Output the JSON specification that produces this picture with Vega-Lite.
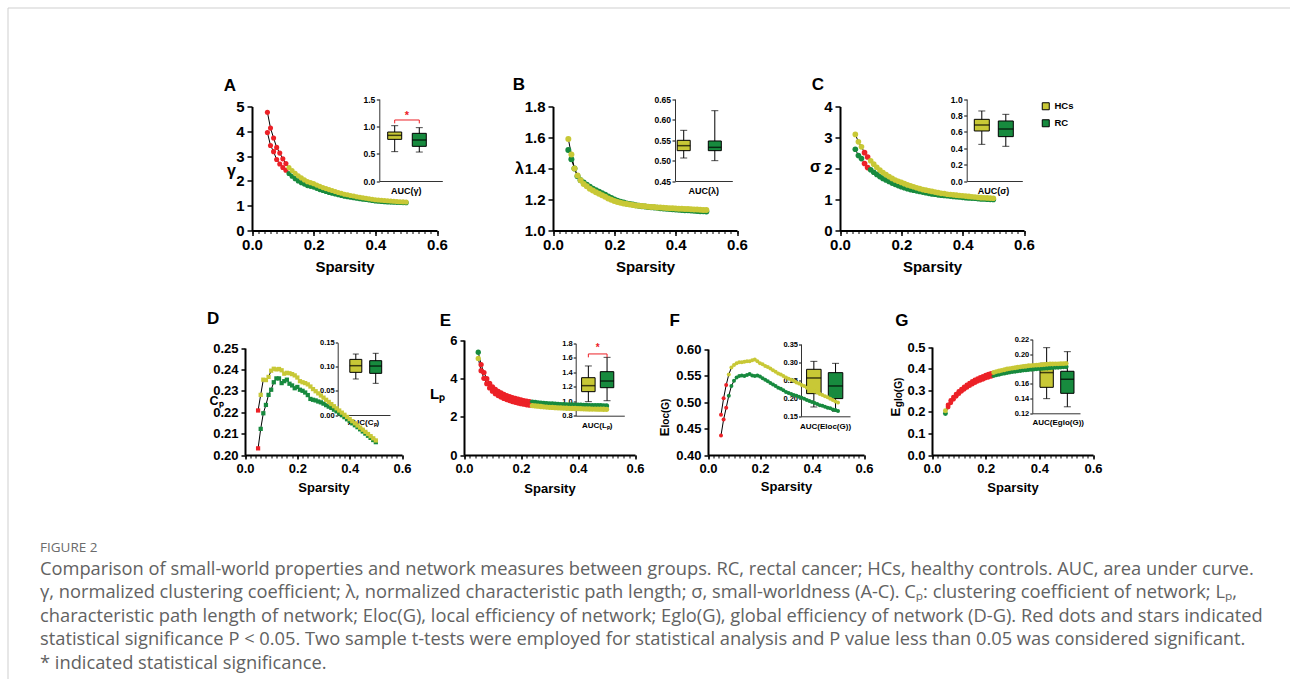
{
"$schema":"https://vega.github.io/schema/vega-lite/v6.json",
"width":1282.5,"height":671.5,
"autosize":{"type":"none"},
"padding":{"left":7.5,"top":7.5,"right":0,"bottom":0},
"background":"white",
"config":{
 "view":{"stroke":"#cfcfcf","strokeWidth":1},
 "axis":{"grid":false,"labelFont":"Liberation Sans","titleFont":"Liberation Sans","labelFontWeight":"bold","titleFontWeight":"bold","labelColor":"#000","titleColor":"#000","domainColor":"#000","tickColor":"#000","labelFlush":false,"labelOverlap":false}
},
"datasets":{
"fig":[{"t":"FIGURE 2"}],
"cap":[
{"n":1,"t":"Comparison of small-world properties and network measures between groups. RC, rectal cancer; HCs, healthy controls. AUC, area under curve."},
{"n":2,"t":"γ, normalized clustering coefficient; λ, normalized characteristic path length; σ, small-worldness (A-C). Cₚ: clustering coefficient of network; Lₚ,"},
{"n":3,"t":"characteristic path length of network; Eloc(G), local efficiency of network; Eglo(G), global efficiency of network (D-G). Red dots and stars indicated"},
{"n":4,"t":"statistical significance P < 0.05. Two sample t-tests were employed for statistical analysis and P value less than 0.05 was considered significant."},
{"n":5,"t":"* indicated statistical significance."}],
"bA":[{"g":"HCs","mn":0.537,"q1":0.762,"md":0.835,"q3":0.896,"mx":1.012},{"g":"RC","mn":0.53,"q1":0.634,"md":0.75,"q3":0.872,"mx":0.976}],
"kA":[{"g":"HCs","v":1.18,"o":0},{"g":"HCs","v":1.054,"o":1},{"g":"HCs","v":1.116,"o":2},{"g":"RC","v":1.116,"o":3},{"g":"RC","v":1.054,"o":4}],
"bB":[{"g":"HCs","mn":0.5061,"q1":0.524,"md":0.5362,"q3":0.5492,"mx":0.5736},{"g":"RC","mn":0.4996,"q1":0.524,"md":0.5321,"q3":0.5476,"mx":0.6215}],
"bC":[{"g":"HCs","mn":0.447,"q1":0.61,"md":0.683,"q3":0.752,"mx":0.854},{"g":"RC","mn":0.423,"q1":0.541,"md":0.634,"q3":0.732,"mx":0.813}],
"bD":[{"g":"HCs","mn":0.0747,"q1":0.0885,"md":0.1023,"q3":0.1154,"mx":0.1265},{"g":"RC","mn":0.0657,"q1":0.0864,"md":0.1016,"q3":0.1127,"mx":0.128}],
"bE":[{"g":"HCs","mn":0.994,"q1":1.132,"md":1.215,"q3":1.325,"mx":1.487},{"g":"RC","mn":1.007,"q1":1.187,"md":1.279,"q3":1.408,"mx":1.606}],
"kE":[{"g":"HCs","v":1.73,"o":0},{"g":"HCs","v":1.606,"o":1},{"g":"HCs","v":1.653,"o":2},{"g":"RC","v":1.653,"o":3},{"g":"RC","v":1.606,"o":4}],
"bF":[{"g":"HCs","mn":0.1758,"q1":0.2127,"md":0.256,"q3":0.28,"mx":0.302},{"g":"RC","mn":0.1638,"q1":0.1989,"md":0.2339,"q3":0.2707,"mx":0.2965}],
"bG":[{"g":"HCs","mn":0.1398,"q1":0.1551,"md":0.175,"q3":0.1876,"mx":0.2087},{"g":"RC","mn":0.1288,"q1":0.147,"md":0.166,"q3":0.1768,"mx":0.2033}],
"A":[
{"s":0.05,"HCs":4.77,"RC":3.95,"r":1},{"s":0.06,"HCs":4.13,"RC":3.43,"r":1},{"s":0.07,"HCs":3.73,"RC":3.18,"r":1},{"s":0.08,"HCs":3.35,"RC":2.86,"r":1},{"s":0.09,"HCs":3.12,"RC":2.68,"r":1},{"s":0.10,"HCs":2.89,"RC":2.54,"r":1},{"s":0.11,"HCs":2.70,"RC":2.43,"r":1},
{"s":0.12,"HCs":2.54,"RC":2.30},{"s":0.13,"HCs":2.42,"RC":2.19},{"s":0.14,"HCs":2.31,"RC":2.09},{"s":0.15,"HCs":2.21,"RC":2.00},{"s":0.16,"HCs":2.12,"RC":1.93},{"s":0.17,"HCs":2.04,"RC":1.87},{"s":0.18,"HCs":1.97,"RC":1.81},{"s":0.19,"HCs":1.93,"RC":1.78},{"s":0.20,"HCs":1.89,"RC":1.75},
{"s":0.21,"HCs":1.83,"RC":1.70},{"s":0.22,"HCs":1.78,"RC":1.65},{"s":0.23,"HCs":1.73,"RC":1.61},{"s":0.24,"HCs":1.69,"RC":1.57},{"s":0.25,"HCs":1.65,"RC":1.53},{"s":0.26,"HCs":1.61,"RC":1.50},{"s":0.27,"HCs":1.57,"RC":1.47},{"s":0.28,"HCs":1.53,"RC":1.44},{"s":0.29,"HCs":1.50,"RC":1.41},{"s":0.30,"HCs":1.46,"RC":1.38},
{"s":0.31,"HCs":1.44,"RC":1.36},{"s":0.32,"HCs":1.41,"RC":1.34},{"s":0.33,"HCs":1.39,"RC":1.32},{"s":0.34,"HCs":1.36,"RC":1.30},{"s":0.35,"HCs":1.34,"RC":1.28},{"s":0.36,"HCs":1.32,"RC":1.26},{"s":0.37,"HCs":1.30,"RC":1.25},{"s":0.38,"HCs":1.28,"RC":1.23},{"s":0.39,"HCs":1.26,"RC":1.21},{"s":0.40,"HCs":1.24,"RC":1.19},
{"s":0.41,"HCs":1.23,"RC":1.18},{"s":0.42,"HCs":1.22,"RC":1.17},{"s":0.43,"HCs":1.21,"RC":1.16},{"s":0.44,"HCs":1.20,"RC":1.15},{"s":0.45,"HCs":1.19,"RC":1.145},{"s":0.46,"HCs":1.18,"RC":1.14},{"s":0.47,"HCs":1.17,"RC":1.135},{"s":0.48,"HCs":1.16,"RC":1.13},{"s":0.49,"HCs":1.155,"RC":1.125},{"s":0.50,"HCs":1.15,"RC":1.12}],
"B":[
{"s":0.05,"HCs":1.59,"RC":1.52},{"s":0.06,"HCs":1.49,"RC":1.46},{"s":0.07,"HCs":1.40,"RC":1.40},{"s":0.08,"HCs":1.355,"RC":1.35},{"s":0.09,"HCs":1.325,"RC":1.325},{"s":0.10,"HCs":1.30,"RC":1.31},{"s":0.11,"HCs":1.285,"RC":1.295},{"s":0.12,"HCs":1.27,"RC":1.282},{"s":0.13,"HCs":1.258,"RC":1.27},{"s":0.14,"HCs":1.247,"RC":1.26},
{"s":0.15,"HCs":1.237,"RC":1.25},{"s":0.16,"HCs":1.227,"RC":1.24},{"s":0.17,"HCs":1.217,"RC":1.23},{"s":0.18,"HCs":1.207,"RC":1.22},{"s":0.19,"HCs":1.198,"RC":1.21},{"s":0.20,"HCs":1.19,"RC":1.20},{"s":0.21,"HCs":1.184,"RC":1.192},{"s":0.22,"HCs":1.179,"RC":1.186},{"s":0.23,"HCs":1.175,"RC":1.18},{"s":0.24,"HCs":1.171,"RC":1.175},
{"s":0.25,"HCs":1.168,"RC":1.171},{"s":0.26,"HCs":1.165,"RC":1.167},{"s":0.27,"HCs":1.162,"RC":1.163},{"s":0.28,"HCs":1.16,"RC":1.16},{"s":0.29,"HCs":1.158,"RC":1.157},{"s":0.30,"HCs":1.156,"RC":1.155},{"s":0.31,"HCs":1.154,"RC":1.152},{"s":0.32,"HCs":1.152,"RC":1.15},{"s":0.33,"HCs":1.151,"RC":1.148},{"s":0.34,"HCs":1.149,"RC":1.146},
{"s":0.35,"HCs":1.148,"RC":1.144},{"s":0.36,"HCs":1.146,"RC":1.142},{"s":0.37,"HCs":1.145,"RC":1.14},{"s":0.38,"HCs":1.144,"RC":1.139},{"s":0.39,"HCs":1.143,"RC":1.137},{"s":0.40,"HCs":1.142,"RC":1.136},{"s":0.41,"HCs":1.141,"RC":1.134},{"s":0.42,"HCs":1.14,"RC":1.133},{"s":0.43,"HCs":1.139,"RC":1.131},{"s":0.44,"HCs":1.138,"RC":1.13},
{"s":0.45,"HCs":1.137,"RC":1.129},{"s":0.46,"HCs":1.136,"RC":1.127},{"s":0.47,"HCs":1.135,"RC":1.126},{"s":0.48,"HCs":1.134,"RC":1.125},{"s":0.49,"HCs":1.133,"RC":1.124},{"s":0.50,"HCs":1.132,"RC":1.123}],
"C":[
{"s":0.05,"HCs":3.10,"RC":2.62},{"s":0.06,"HCs":2.86,"RC":2.42},{"s":0.07,"HCs":2.70,"RC":2.32},{"s":0.08,"HCs":2.51,"RC":2.16,"r":1},{"s":0.09,"HCs":2.37,"RC":2.03,"r":1},{"s":0.10,"HCs":2.25,"RC":1.96},{"s":0.11,"HCs":2.14,"RC":1.88},{"s":0.12,"HCs":2.04,"RC":1.81},{"s":0.13,"HCs":1.95,"RC":1.74},{"s":0.14,"HCs":1.87,"RC":1.68},
{"s":0.15,"HCs":1.80,"RC":1.63},{"s":0.16,"HCs":1.74,"RC":1.58},{"s":0.17,"HCs":1.68,"RC":1.53},{"s":0.18,"HCs":1.63,"RC":1.49},{"s":0.19,"HCs":1.59,"RC":1.45},{"s":0.20,"HCs":1.55,"RC":1.41},{"s":0.21,"HCs":1.51,"RC":1.38},{"s":0.22,"HCs":1.47,"RC":1.35},{"s":0.23,"HCs":1.44,"RC":1.32},{"s":0.24,"HCs":1.41,"RC":1.30},
{"s":0.25,"HCs":1.38,"RC":1.28},{"s":0.26,"HCs":1.35,"RC":1.26},{"s":0.27,"HCs":1.32,"RC":1.24},{"s":0.28,"HCs":1.30,"RC":1.22},{"s":0.29,"HCs":1.28,"RC":1.20},{"s":0.30,"HCs":1.26,"RC":1.18},{"s":0.31,"HCs":1.24,"RC":1.17},{"s":0.32,"HCs":1.22,"RC":1.15},{"s":0.33,"HCs":1.20,"RC":1.14},{"s":0.34,"HCs":1.19,"RC":1.13},
{"s":0.35,"HCs":1.17,"RC":1.12},{"s":0.36,"HCs":1.16,"RC":1.11},{"s":0.37,"HCs":1.15,"RC":1.10},{"s":0.38,"HCs":1.14,"RC":1.09},{"s":0.39,"HCs":1.13,"RC":1.08},{"s":0.40,"HCs":1.12,"RC":1.07},{"s":0.41,"HCs":1.11,"RC":1.06},{"s":0.42,"HCs":1.10,"RC":1.05},{"s":0.43,"HCs":1.09,"RC":1.045},{"s":0.44,"HCs":1.08,"RC":1.04},
{"s":0.45,"HCs":1.07,"RC":1.03},{"s":0.46,"HCs":1.06,"RC":1.02},{"s":0.47,"HCs":1.055,"RC":1.015},{"s":0.48,"HCs":1.05,"RC":1.01},{"s":0.49,"HCs":1.045,"RC":1.005},{"s":0.50,"HCs":1.04,"RC":1.00}],
"D":[
{"s":0.05,"HCs":0.2208,"RC":0.2031,"r":1},{"s":0.06,"HCs":0.2281,"RC":0.2122},{"s":0.07,"HCs":0.2352,"RC":0.2195},{"s":0.08,"HCs":0.2350,"RC":0.2234},{"s":0.09,"HCs":0.2365,"RC":0.2281},{"s":0.10,"HCs":0.2394,"RC":0.2305},{"s":0.11,"HCs":0.2403,"RC":0.2340},{"s":0.12,"HCs":0.2400,"RC":0.2358},{"s":0.13,"HCs":0.2402,"RC":0.2358},{"s":0.14,"HCs":0.2396,"RC":0.2336},
{"s":0.15,"HCs":0.2380,"RC":0.2345},{"s":0.16,"HCs":0.2384,"RC":0.2352},{"s":0.17,"HCs":0.2382,"RC":0.2333},{"s":0.18,"HCs":0.2378,"RC":0.2325},{"s":0.19,"HCs":0.2372,"RC":0.2312},{"s":0.20,"HCs":0.2362,"RC":0.2318},{"s":0.21,"HCs":0.2345,"RC":0.2305},{"s":0.22,"HCs":0.2340,"RC":0.2300},{"s":0.23,"HCs":0.2336,"RC":0.2292},{"s":0.24,"HCs":0.2330,"RC":0.2280},
{"s":0.25,"HCs":0.2320,"RC":0.2262},{"s":0.26,"HCs":0.2308,"RC":0.2258},{"s":0.27,"HCs":0.2298,"RC":0.2255},{"s":0.28,"HCs":0.2288,"RC":0.2250},{"s":0.29,"HCs":0.2278,"RC":0.2246},{"s":0.30,"HCs":0.2268,"RC":0.2240},{"s":0.31,"HCs":0.2258,"RC":0.2233},{"s":0.32,"HCs":0.2248,"RC":0.2226},{"s":0.33,"HCs":0.2238,"RC":0.2220},{"s":0.34,"HCs":0.2228,"RC":0.2212},
{"s":0.35,"HCs":0.2218,"RC":0.2204},{"s":0.36,"HCs":0.2208,"RC":0.2195},{"s":0.37,"HCs":0.2198,"RC":0.2186},{"s":0.38,"HCs":0.2188,"RC":0.2177},{"s":0.39,"HCs":0.2178,"RC":0.2167},{"s":0.40,"HCs":0.2168,"RC":0.2158},{"s":0.41,"HCs":0.2158,"RC":0.2148},{"s":0.42,"HCs":0.2148,"RC":0.2139},{"s":0.43,"HCs":0.2138,"RC":0.2130},{"s":0.44,"HCs":0.2128,"RC":0.2120},
{"s":0.45,"HCs":0.2118,"RC":0.2110},{"s":0.46,"HCs":0.2108,"RC":0.2100},{"s":0.47,"HCs":0.2098,"RC":0.2090},{"s":0.48,"HCs":0.2088,"RC":0.2080},{"s":0.49,"HCs":0.2078,"RC":0.2070},{"s":0.50,"HCs":0.2068,"RC":0.2060}],
"E":[
{"s":0.05,"HCs":5.04,"RC":5.36},{"s":0.06,"HCs":4.40,"RC":4.72,"r":1},{"s":0.07,"HCs":4.00,"RC":4.30,"r":1},{"s":0.08,"HCs":3.72,"RC":3.98,"r":1},{"s":0.09,"HCs":3.50,"RC":3.73,"r":1},{"s":0.10,"HCs":3.33,"RC":3.55,"r":1},{"s":0.11,"HCs":3.20,"RC":3.42,"r":1},{"s":0.12,"HCs":3.10,"RC":3.32,"r":1},{"s":0.13,"HCs":3.02,"RC":3.24,"r":1},{"s":0.14,"HCs":2.95,"RC":3.16,"r":1},
{"s":0.15,"HCs":2.89,"RC":3.10,"r":1},{"s":0.16,"HCs":2.84,"RC":3.04,"r":1},{"s":0.17,"HCs":2.79,"RC":2.99,"r":1},{"s":0.18,"HCs":2.75,"RC":2.95,"r":1},{"s":0.19,"HCs":2.71,"RC":2.91,"r":1},{"s":0.20,"HCs":2.68,"RC":2.87,"r":1},{"s":0.21,"HCs":2.65,"RC":2.84,"r":1},{"s":0.22,"HCs":2.62,"RC":2.81,"r":1},{"s":0.23,"HCs":2.60,"RC":2.78,"r":1},{"s":0.24,"HCs":2.58,"RC":2.76},
{"s":0.25,"HCs":2.56,"RC":2.74},{"s":0.26,"HCs":2.545,"RC":2.72},{"s":0.27,"HCs":2.53,"RC":2.70},{"s":0.28,"HCs":2.515,"RC":2.69},{"s":0.29,"HCs":2.50,"RC":2.68},{"s":0.30,"HCs":2.49,"RC":2.67},{"s":0.31,"HCs":2.48,"RC":2.66},{"s":0.32,"HCs":2.47,"RC":2.65},{"s":0.33,"HCs":2.46,"RC":2.64},{"s":0.34,"HCs":2.455,"RC":2.63},
{"s":0.35,"HCs":2.45,"RC":2.625},{"s":0.36,"HCs":2.44,"RC":2.62},{"s":0.37,"HCs":2.435,"RC":2.615},{"s":0.38,"HCs":2.43,"RC":2.61},{"s":0.39,"HCs":2.425,"RC":2.605},{"s":0.40,"HCs":2.42,"RC":2.60},{"s":0.41,"HCs":2.415,"RC":2.595},{"s":0.42,"HCs":2.41,"RC":2.59},{"s":0.43,"HCs":2.405,"RC":2.585},{"s":0.44,"HCs":2.40,"RC":2.58},
{"s":0.45,"HCs":2.398,"RC":2.578},{"s":0.46,"HCs":2.395,"RC":2.575},{"s":0.47,"HCs":2.392,"RC":2.573},{"s":0.48,"HCs":2.39,"RC":2.57},{"s":0.49,"HCs":2.387,"RC":2.568},{"s":0.50,"HCs":2.385,"RC":2.565}],
"F":[
{"s":0.05,"HCs":0.476,"RC":0.437,"r":1},{"s":0.06,"HCs":0.507,"RC":0.467,"r":1},{"s":0.07,"HCs":0.532,"RC":0.489,"r":1},{"s":0.08,"HCs":0.552,"RC":0.512},{"s":0.09,"HCs":0.565,"RC":0.530},{"s":0.10,"HCs":0.570,"RC":0.540},{"s":0.11,"HCs":0.573,"RC":0.546},{"s":0.12,"HCs":0.575,"RC":0.549},{"s":0.13,"HCs":0.575,"RC":0.550},{"s":0.14,"HCs":0.576,"RC":0.549},
{"s":0.15,"HCs":0.577,"RC":0.551},{"s":0.16,"HCs":0.577,"RC":0.553},{"s":0.17,"HCs":0.579,"RC":0.550},{"s":0.18,"HCs":0.580,"RC":0.549},{"s":0.19,"HCs":0.577,"RC":0.550},{"s":0.20,"HCs":0.573,"RC":0.548},{"s":0.21,"HCs":0.571,"RC":0.545},{"s":0.22,"HCs":0.568,"RC":0.542},{"s":0.23,"HCs":0.566,"RC":0.539},{"s":0.24,"HCs":0.563,"RC":0.536},
{"s":0.25,"HCs":0.560,"RC":0.533},{"s":0.26,"HCs":0.557,"RC":0.530},{"s":0.27,"HCs":0.554,"RC":0.527},{"s":0.28,"HCs":0.552,"RC":0.525},{"s":0.29,"HCs":0.549,"RC":0.522},{"s":0.30,"HCs":0.546,"RC":0.519},{"s":0.31,"HCs":0.544,"RC":0.517},{"s":0.32,"HCs":0.542,"RC":0.515},{"s":0.33,"HCs":0.540,"RC":0.513},{"s":0.34,"HCs":0.537,"RC":0.512},
{"s":0.35,"HCs":0.535,"RC":0.510},{"s":0.36,"HCs":0.532,"RC":0.508},{"s":0.37,"HCs":0.530,"RC":0.506},{"s":0.38,"HCs":0.527,"RC":0.504},{"s":0.39,"HCs":0.525,"RC":0.502},{"s":0.40,"HCs":0.522,"RC":0.500},{"s":0.41,"HCs":0.520,"RC":0.498},{"s":0.42,"HCs":0.518,"RC":0.496},{"s":0.43,"HCs":0.515,"RC":0.494},{"s":0.44,"HCs":0.513,"RC":0.493},
{"s":0.45,"HCs":0.511,"RC":0.491},{"s":0.46,"HCs":0.509,"RC":0.489},{"s":0.47,"HCs":0.506,"RC":0.488},{"s":0.48,"HCs":0.504,"RC":0.486},{"s":0.49,"HCs":0.501,"RC":0.485},{"s":0.50,"HCs":0.499,"RC":0.483}],
"G":[
{"s":0.05,"HCs":0.205,"RC":0.192},{"s":0.06,"HCs":0.232,"RC":0.222,"r":1},{"s":0.07,"HCs":0.252,"RC":0.242,"r":1},{"s":0.08,"HCs":0.268,"RC":0.258,"r":1},{"s":0.09,"HCs":0.282,"RC":0.272,"r":1},{"s":0.10,"HCs":0.294,"RC":0.284,"r":1},{"s":0.11,"HCs":0.305,"RC":0.295,"r":1},{"s":0.12,"HCs":0.315,"RC":0.304,"r":1},{"s":0.13,"HCs":0.324,"RC":0.313,"r":1},{"s":0.14,"HCs":0.332,"RC":0.321,"r":1},
{"s":0.15,"HCs":0.340,"RC":0.328,"r":1},{"s":0.16,"HCs":0.347,"RC":0.335,"r":1},{"s":0.17,"HCs":0.353,"RC":0.341,"r":1},{"s":0.18,"HCs":0.359,"RC":0.346,"r":1},{"s":0.19,"HCs":0.364,"RC":0.351,"r":1},{"s":0.20,"HCs":0.369,"RC":0.356,"r":1},{"s":0.21,"HCs":0.374,"RC":0.360,"r":1},{"s":0.22,"HCs":0.378,"RC":0.364,"r":1},{"s":0.23,"HCs":0.382,"RC":0.368},{"s":0.24,"HCs":0.386,"RC":0.371},
{"s":0.25,"HCs":0.389,"RC":0.374},{"s":0.26,"HCs":0.392,"RC":0.377},{"s":0.27,"HCs":0.395,"RC":0.379},{"s":0.28,"HCs":0.398,"RC":0.382},{"s":0.29,"HCs":0.400,"RC":0.384},{"s":0.30,"HCs":0.402,"RC":0.386},{"s":0.31,"HCs":0.404,"RC":0.388},{"s":0.32,"HCs":0.406,"RC":0.390},{"s":0.33,"HCs":0.408,"RC":0.391},{"s":0.34,"HCs":0.410,"RC":0.393},
{"s":0.35,"HCs":0.411,"RC":0.394},{"s":0.36,"HCs":0.413,"RC":0.396},{"s":0.37,"HCs":0.414,"RC":0.397},{"s":0.38,"HCs":0.415,"RC":0.398},{"s":0.39,"HCs":0.416,"RC":0.399},{"s":0.40,"HCs":0.417,"RC":0.400},{"s":0.41,"HCs":0.418,"RC":0.401},{"s":0.42,"HCs":0.419,"RC":0.402},{"s":0.43,"HCs":0.420,"RC":0.403},{"s":0.44,"HCs":0.421,"RC":0.404},
{"s":0.45,"HCs":0.421,"RC":0.405},{"s":0.46,"HCs":0.422,"RC":0.406},{"s":0.47,"HCs":0.422,"RC":0.406},{"s":0.48,"HCs":0.423,"RC":0.407},{"s":0.49,"HCs":0.423,"RC":0.408},{"s":0.50,"HCs":0.424,"RC":0.408}]
},
"resolve":{"scale":{"x":"independent","y":"independent"},"axis":{"x":"independent","y":"independent"}},
"layer":[
{"data":{"name":"fig"},"mark":{"type":"text","align":"left","baseline":"middle","font":"Open Sans","fontSize":13.5,"color":"#6b6b6b"},
 "encoding":{"x":{"datum":0,"type":"quantitative","scale":{"domain":[0,1],"range":[32.5,1282.5]},"axis":null},"y":{"datum":0,"type":"quantitative","scale":{"domain":[0,1],"range":[540.5,640]},"axis":null},"text":{"field":"t"}}},
{"data":{"name":"cap"},"mark":{"type":"text","align":"left","baseline":"middle","font":"Open Sans","fontSize":18.3,"color":"#626262"},
 "encoding":{"x":{"datum":0,"type":"quantitative","scale":{"domain":[0,1],"range":[32.5,1282.5]},"axis":null},"y":{"field":"n","type":"quantitative","scale":{"domain":[1,5],"range":[562,656],"nice":false,"zero":false},"axis":null},"text":{"field":"t"}}},

{"data":{"name":"bA"},"mark":{"type":"rule","color":"#000","strokeWidth":1},"encoding":{"x":{"field":"g","type":"nominal","scale":{"type":"band","domain":["HCs","RC"],"range":[371.8,434.8],"paddingInner":0.431,"paddingOuter":0.496,"align":0.344,"round":false},"axis":null},"y":{"field":"mn","type":"quantitative","scale":{"domain":[0,1.5],"range":[173.5,91.5],"nice":false,"zero":false},"axis":null},"y2":{"field":"mx"}}},
{"data":{"name":"bA"},"transform":[{"fold":["mn","mx"]}],"mark":{"type":"tick","orient":"horizontal","color":"#000","size":7,"thickness":1},"encoding":{"x":{"field":"g","type":"nominal","scale":{"type":"band","domain":["HCs","RC"],"range":[371.8,434.8],"paddingInner":0.431,"paddingOuter":0.496,"align":0.344,"round":false},"axis":null},"y":{"field":"value","type":"quantitative","scale":{"domain":[0,1.5],"range":[173.5,91.5],"nice":false,"zero":false},"axis":null}}},
{"data":{"name":"bA"},"mark":{"type":"bar","stroke":"#000","strokeWidth":1},"encoding":{"x":{"field":"g","type":"nominal","scale":{"type":"band","domain":["HCs","RC"],"range":[371.8,434.8],"paddingInner":0.431,"paddingOuter":0.496,"align":0.344,"round":false},"axis":{"orient":"bottom","offset":-498,"labels":false,"ticks":false,"domainWidth":1,"domainColor":"#333","title":"AUC(γ)","titleFontSize":9,"titleX":398.2,"titleY":9,"titleAlign":"center","titleBaseline":"middle","titleAngle":0}},"y":{"field":"q1","type":"quantitative","scale":{"domain":[0,1.5],"range":[173.5,91.5],"nice":false,"zero":false},"axis":{"orient":"left","offset":-371.8,"values":[0,0.5,1,1.5],"format":".1f","tickSize":3,"tickWidth":1,"domainWidth":1,"domainColor":"#333","labelFontSize":8.5,"labelPadding":1.5,"title":null}},"y2":{"field":"q3"},"color":{"field":"g","type":"nominal","scale":{"domain":["HCs","RC"],"range":["#c8c836","#178a3e"]},"legend":{"title":null,"orient":"none","legendX":1033.5,"legendY":94,"symbolType":"square","symbolSize":49,"symbolStrokeColor":"#000","symbolStrokeWidth":1,"labelFont":"Liberation Sans","labelFontWeight":"bold","labelFontSize":9.5,"labelColor":"#000","labelOffset":4,"rowPadding":5,"padding":0}}}},
{"data":{"name":"bA"},"mark":{"type":"tick","orient":"horizontal","color":"#000","size":14,"thickness":1.5},"encoding":{"x":{"field":"g","type":"nominal","scale":{"type":"band","domain":["HCs","RC"],"range":[371.8,434.8],"paddingInner":0.431,"paddingOuter":0.496,"align":0.344,"round":false},"axis":null},"y":{"field":"md","type":"quantitative","scale":{"domain":[0,1.5],"range":[173.5,91.5],"nice":false,"zero":false},"axis":null}}},
{"data":{"name":"kA"},"transform":[{"filter":"datum.o > 0"}],"mark":{"type":"line","color":"#ec2127","strokeWidth":1},"encoding":{"x":{"field":"g","type":"nominal","scale":{"type":"band","domain":["HCs","RC"],"range":[371.8,434.8],"paddingInner":0.431,"paddingOuter":0.496,"align":0.344,"round":false},"axis":null},"y":{"field":"v","type":"quantitative","scale":{"domain":[0,1.5],"range":[173.5,91.5],"nice":false,"zero":false},"axis":null},"order":{"field":"o","type":"quantitative"}}},
{"data":{"name":"kA"},"transform":[{"filter":"datum.o == 0"}],"mark":{"type":"text","text":"*","color":"#ec2127","fontSize":11,"fontWeight":"bold","dx":12.3,"align":"center","baseline":"middle"},"encoding":{"x":{"field":"g","type":"nominal","scale":{"type":"band","domain":["HCs","RC"],"range":[371.8,434.8],"paddingInner":0.431,"paddingOuter":0.496,"align":0.344,"round":false},"axis":null},"y":{"field":"v","type":"quantitative","scale":{"domain":[0,1.5],"range":[173.5,91.5],"nice":false,"zero":false},"axis":null}}},

{"data":{"name":"bB"},"mark":{"type":"rule","color":"#000","strokeWidth":1},"encoding":{"x":{"field":"g","type":"nominal","scale":{"type":"band","domain":["HCs","RC"],"range":[667.5,724.8],"paddingInner":0.582,"paddingOuter":0.212,"align":0.167,"round":false},"axis":null},"y":{"field":"mn","type":"quantitative","scale":{"domain":[0.45,0.65],"range":[173.5,91.5],"nice":false,"zero":false},"axis":null},"y2":{"field":"mx"}}},
{"data":{"name":"bB"},"transform":[{"fold":["mn","mx"]}],"mark":{"type":"tick","orient":"horizontal","color":"#000","size":7,"thickness":1},"encoding":{"x":{"field":"g","type":"nominal","scale":{"type":"band","domain":["HCs","RC"],"range":[667.5,724.8],"paddingInner":0.582,"paddingOuter":0.212,"align":0.167,"round":false},"axis":null},"y":{"field":"value","type":"quantitative","scale":{"domain":[0.45,0.65],"range":[173.5,91.5],"nice":false,"zero":false},"axis":null}}},
{"data":{"name":"bB"},"mark":{"type":"bar","stroke":"#000","strokeWidth":1},"encoding":{"x":{"field":"g","type":"nominal","scale":{"type":"band","domain":["HCs","RC"],"range":[667.5,724.8],"paddingInner":0.582,"paddingOuter":0.212,"align":0.167,"round":false},"axis":{"orient":"bottom","offset":-498,"labels":false,"ticks":false,"domainWidth":1,"domainColor":"#333","title":"AUC(λ)","titleFontSize":9,"titleX":695.8,"titleY":9,"titleAlign":"center","titleBaseline":"middle","titleAngle":0}},"y":{"field":"q1","type":"quantitative","scale":{"domain":[0.45,0.65],"range":[173.5,91.5],"nice":false,"zero":false},"axis":{"orient":"left","offset":-667.5,"values":[0.45,0.5,0.55,0.6,0.65],"format":".2f","tickSize":3,"tickWidth":1,"domainWidth":1,"domainColor":"#333","labelFontSize":8.5,"labelPadding":1.5,"title":null}},"y2":{"field":"q3"},"color":{"field":"g","type":"nominal","scale":{"domain":["HCs","RC"],"range":["#c8c836","#178a3e"]},"legend":{"title":null,"orient":"none","legendX":1033.5,"legendY":94,"symbolType":"square","symbolSize":49,"symbolStrokeColor":"#000","symbolStrokeWidth":1,"labelFont":"Liberation Sans","labelFontWeight":"bold","labelFontSize":9.5,"labelColor":"#000","labelOffset":4,"rowPadding":5,"padding":0}}}},
{"data":{"name":"bB"},"mark":{"type":"tick","orient":"horizontal","color":"#000","size":13,"thickness":1.5},"encoding":{"x":{"field":"g","type":"nominal","scale":{"type":"band","domain":["HCs","RC"],"range":[667.5,724.8],"paddingInner":0.582,"paddingOuter":0.212,"align":0.167,"round":false},"axis":null},"y":{"field":"md","type":"quantitative","scale":{"domain":[0.45,0.65],"range":[173.5,91.5],"nice":false,"zero":false},"axis":null}}},

{"data":{"name":"bC"},"mark":{"type":"rule","color":"#000","strokeWidth":1},"encoding":{"x":{"field":"g","type":"nominal","scale":{"type":"band","domain":["HCs","RC"],"range":[959.2,1014.8],"paddingInner":0.375,"paddingOuter":0.346,"align":0.458,"round":false},"axis":null},"y":{"field":"mn","type":"quantitative","scale":{"domain":[0,1],"range":[173.5,91.5],"nice":false,"zero":false},"axis":null},"y2":{"field":"mx"}}},
{"data":{"name":"bC"},"transform":[{"fold":["mn","mx"]}],"mark":{"type":"tick","orient":"horizontal","color":"#000","size":7,"thickness":1},"encoding":{"x":{"field":"g","type":"nominal","scale":{"type":"band","domain":["HCs","RC"],"range":[959.2,1014.8],"paddingInner":0.375,"paddingOuter":0.346,"align":0.458,"round":false},"axis":null},"y":{"field":"value","type":"quantitative","scale":{"domain":[0,1],"range":[173.5,91.5],"nice":false,"zero":false},"axis":null}}},
{"data":{"name":"bC"},"mark":{"type":"bar","stroke":"#000","strokeWidth":1},"encoding":{"x":{"field":"g","type":"nominal","scale":{"type":"band","domain":["HCs","RC"],"range":[959.2,1014.8],"paddingInner":0.375,"paddingOuter":0.346,"align":0.458,"round":false},"axis":{"orient":"bottom","offset":-498,"labels":false,"ticks":false,"domainWidth":1,"domainColor":"#333","title":"AUC(σ)","titleFontSize":9,"titleX":985.5,"titleY":9,"titleAlign":"center","titleBaseline":"middle","titleAngle":0}},"y":{"field":"q1","type":"quantitative","scale":{"domain":[0,1],"range":[173.5,91.5],"nice":false,"zero":false},"axis":{"orient":"left","offset":-959.2,"values":[0,0.2,0.4,0.6,0.8,1],"format":".1f","tickSize":3,"tickWidth":1,"domainWidth":1,"domainColor":"#333","labelFontSize":8.5,"labelPadding":1.5,"title":null}},"y2":{"field":"q3"},"color":{"field":"g","type":"nominal","scale":{"domain":["HCs","RC"],"range":["#c8c836","#178a3e"]},"legend":{"title":null,"orient":"none","legendX":1033.5,"legendY":94,"symbolType":"square","symbolSize":49,"symbolStrokeColor":"#000","symbolStrokeWidth":1,"labelFont":"Liberation Sans","labelFontWeight":"bold","labelFontSize":9.5,"labelColor":"#000","labelOffset":4,"rowPadding":5,"padding":0}}}},
{"data":{"name":"bC"},"mark":{"type":"tick","orient":"horizontal","color":"#000","size":15,"thickness":1.5},"encoding":{"x":{"field":"g","type":"nominal","scale":{"type":"band","domain":["HCs","RC"],"range":[959.2,1014.8],"paddingInner":0.375,"paddingOuter":0.346,"align":0.458,"round":false},"axis":null},"y":{"field":"md","type":"quantitative","scale":{"domain":[0,1],"range":[173.5,91.5],"nice":false,"zero":false},"axis":null}}},

{"data":{"name":"bD"},"mark":{"type":"rule","color":"#000","strokeWidth":1},"encoding":{"x":{"field":"g","type":"nominal","scale":{"type":"band","domain":["HCs","RC"],"range":[330.2,382.5],"paddingInner":0.397,"paddingOuter":0.513,"align":0.593,"round":false},"axis":null},"y":{"field":"mn","type":"quantitative","scale":{"domain":[0,0.15],"range":[407.5,335.2],"nice":false,"zero":false},"axis":null},"y2":{"field":"mx"}}},
{"data":{"name":"bD"},"transform":[{"fold":["mn","mx"]}],"mark":{"type":"tick","orient":"horizontal","color":"#000","size":6,"thickness":1},"encoding":{"x":{"field":"g","type":"nominal","scale":{"type":"band","domain":["HCs","RC"],"range":[330.2,382.5],"paddingInner":0.397,"paddingOuter":0.513,"align":0.593,"round":false},"axis":null},"y":{"field":"value","type":"quantitative","scale":{"domain":[0,0.15],"range":[407.5,335.2],"nice":false,"zero":false},"axis":null}}},
{"data":{"name":"bD"},"mark":{"type":"bar","stroke":"#000","strokeWidth":1},"encoding":{"x":{"field":"g","type":"nominal","scale":{"type":"band","domain":["HCs","RC"],"range":[330.2,382.5],"paddingInner":0.397,"paddingOuter":0.513,"align":0.593,"round":false},"axis":{"orient":"bottom","offset":-264,"labels":false,"ticks":false,"domainWidth":1,"domainColor":"#333","title":"AUC(Cₚ)","titleFontSize":8,"titleX":355.5,"titleY":7.7,"titleAlign":"center","titleBaseline":"middle","titleAngle":0}},"y":{"field":"q1","type":"quantitative","scale":{"domain":[0,0.15],"range":[407.5,335.2],"nice":false,"zero":false},"axis":{"orient":"left","offset":-330.2,"values":[0,0.05,0.1,0.15],"format":".2f","tickSize":2.5,"tickWidth":1,"domainWidth":1,"domainColor":"#333","labelFontSize":7.5,"labelPadding":1,"title":null}},"y2":{"field":"q3"},"color":{"field":"g","type":"nominal","scale":{"domain":["HCs","RC"],"range":["#c8c836","#178a3e"]},"legend":{"title":null,"orient":"none","legendX":1033.5,"legendY":94,"symbolType":"square","symbolSize":49,"symbolStrokeColor":"#000","symbolStrokeWidth":1,"labelFont":"Liberation Sans","labelFontWeight":"bold","labelFontSize":9.5,"labelColor":"#000","labelOffset":4,"rowPadding":5,"padding":0}}}},
{"data":{"name":"bD"},"mark":{"type":"tick","orient":"horizontal","color":"#000","size":12,"thickness":1.5},"encoding":{"x":{"field":"g","type":"nominal","scale":{"type":"band","domain":["HCs","RC"],"range":[330.2,382.5],"paddingInner":0.397,"paddingOuter":0.513,"align":0.593,"round":false},"axis":null},"y":{"field":"md","type":"quantitative","scale":{"domain":[0,0.15],"range":[407.5,335.2],"nice":false,"zero":false},"axis":null}}},

{"data":{"name":"bE"},"mark":{"type":"rule","color":"#000","strokeWidth":1},"encoding":{"x":{"field":"g","type":"nominal","scale":{"type":"band","domain":["HCs","RC"],"range":[568.2,616.8],"paddingInner":0.278,"paddingOuter":0.439,"align":0.36,"round":false},"axis":null},"y":{"field":"mn","type":"quantitative","scale":{"domain":[0.8,1.8],"range":[408.2,335.8],"nice":false,"zero":false},"axis":null},"y2":{"field":"mx"}}},
{"data":{"name":"bE"},"transform":[{"fold":["mn","mx"]}],"mark":{"type":"tick","orient":"horizontal","color":"#000","size":7,"thickness":1},"encoding":{"x":{"field":"g","type":"nominal","scale":{"type":"band","domain":["HCs","RC"],"range":[568.2,616.8],"paddingInner":0.278,"paddingOuter":0.439,"align":0.36,"round":false},"axis":null},"y":{"field":"value","type":"quantitative","scale":{"domain":[0.8,1.8],"range":[408.2,335.8],"nice":false,"zero":false},"axis":null}}},
{"data":{"name":"bE"},"mark":{"type":"bar","stroke":"#000","strokeWidth":1},"encoding":{"x":{"field":"g","type":"nominal","scale":{"type":"band","domain":["HCs","RC"],"range":[568.2,616.8],"paddingInner":0.278,"paddingOuter":0.439,"align":0.36,"round":false},"axis":{"orient":"bottom","offset":-263.3,"labels":false,"ticks":false,"domainWidth":1,"domainColor":"#333","title":"AUC(Lₚ)","titleFontSize":8,"titleX":589.2,"titleY":10,"titleAlign":"center","titleBaseline":"middle","titleAngle":0}},"y":{"field":"q1","type":"quantitative","scale":{"domain":[0.8,1.8],"range":[408.2,335.8],"nice":false,"zero":false},"axis":{"orient":"left","offset":-568.2,"values":[0.8,1,1.2,1.4,1.6,1.8],"format":".1f","tickSize":2.5,"tickWidth":1,"domainWidth":1,"domainColor":"#333","labelFontSize":7.5,"labelPadding":1,"title":null}},"y2":{"field":"q3"},"color":{"field":"g","type":"nominal","scale":{"domain":["HCs","RC"],"range":["#c8c836","#178a3e"]},"legend":{"title":null,"orient":"none","legendX":1033.5,"legendY":94,"symbolType":"square","symbolSize":49,"symbolStrokeColor":"#000","symbolStrokeWidth":1,"labelFont":"Liberation Sans","labelFontWeight":"bold","labelFontSize":9.5,"labelColor":"#000","labelOffset":4,"rowPadding":5,"padding":0}}}},
{"data":{"name":"bE"},"mark":{"type":"tick","orient":"horizontal","color":"#000","size":13.5,"thickness":1.5},"encoding":{"x":{"field":"g","type":"nominal","scale":{"type":"band","domain":["HCs","RC"],"range":[568.2,616.8],"paddingInner":0.278,"paddingOuter":0.439,"align":0.36,"round":false},"axis":null},"y":{"field":"md","type":"quantitative","scale":{"domain":[0.8,1.8],"range":[408.2,335.8],"nice":false,"zero":false},"axis":null}}},
{"data":{"name":"kE"},"transform":[{"filter":"datum.o > 0"}],"mark":{"type":"line","color":"#ec2127","strokeWidth":1},"encoding":{"x":{"field":"g","type":"nominal","scale":{"type":"band","domain":["HCs","RC"],"range":[568.2,616.8],"paddingInner":0.278,"paddingOuter":0.439,"align":0.36,"round":false},"axis":null},"y":{"field":"v","type":"quantitative","scale":{"domain":[0.8,1.8],"range":[408.2,335.8],"nice":false,"zero":false},"axis":null},"order":{"field":"o","type":"quantitative"}}},
{"data":{"name":"kE"},"transform":[{"filter":"datum.o == 0"}],"mark":{"type":"text","text":"*","color":"#ec2127","fontSize":10,"fontWeight":"bold","dx":9.35,"align":"center","baseline":"middle"},"encoding":{"x":{"field":"g","type":"nominal","scale":{"type":"band","domain":["HCs","RC"],"range":[568.2,616.8],"paddingInner":0.278,"paddingOuter":0.439,"align":0.36,"round":false},"axis":null},"y":{"field":"v","type":"quantitative","scale":{"domain":[0.8,1.8],"range":[408.2,335.8],"nice":false,"zero":false},"axis":null}}},

{"data":{"name":"bF"},"mark":{"type":"rule","color":"#000","strokeWidth":1},"encoding":{"x":{"field":"g","type":"nominal","scale":{"type":"band","domain":["HCs","RC"],"range":[793.5,842.5],"paddingInner":0.332,"paddingOuter":0.295,"align":0.4375,"round":false},"axis":null},"y":{"field":"mn","type":"quantitative","scale":{"domain":[0.15,0.35],"range":[408.8,336.5],"nice":false,"zero":false},"axis":null},"y2":{"field":"mx"}}},
{"data":{"name":"bF"},"transform":[{"fold":["mn","mx"]}],"mark":{"type":"tick","orient":"horizontal","color":"#000","size":7,"thickness":1},"encoding":{"x":{"field":"g","type":"nominal","scale":{"type":"band","domain":["HCs","RC"],"range":[793.5,842.5],"paddingInner":0.332,"paddingOuter":0.295,"align":0.4375,"round":false},"axis":null},"y":{"field":"value","type":"quantitative","scale":{"domain":[0.15,0.35],"range":[408.8,336.5],"nice":false,"zero":false},"axis":null}}},
{"data":{"name":"bF"},"mark":{"type":"bar","stroke":"#000","strokeWidth":1},"encoding":{"x":{"field":"g","type":"nominal","scale":{"type":"band","domain":["HCs","RC"],"range":[793.5,842.5],"paddingInner":0.332,"paddingOuter":0.295,"align":0.4375,"round":false},"axis":{"orient":"bottom","offset":-262.7,"labels":false,"ticks":false,"domainWidth":1,"domainColor":"#333","title":"AUC(Eloc(G))","titleFontSize":8,"titleX":817.5,"titleY":10.4,"titleAlign":"center","titleBaseline":"middle","titleAngle":0}},"y":{"field":"q1","type":"quantitative","scale":{"domain":[0.15,0.35],"range":[408.8,336.5],"nice":false,"zero":false},"axis":{"orient":"left","offset":-793.5,"values":[0.15,0.2,0.25,0.3,0.35],"format":".2f","tickSize":2.5,"tickWidth":1,"domainWidth":1,"domainColor":"#333","labelFontSize":7.5,"labelPadding":1,"title":null}},"y2":{"field":"q3"},"color":{"field":"g","type":"nominal","scale":{"domain":["HCs","RC"],"range":["#c8c836","#178a3e"]},"legend":{"title":null,"orient":"none","legendX":1033.5,"legendY":94,"symbolType":"square","symbolSize":49,"symbolStrokeColor":"#000","symbolStrokeWidth":1,"labelFont":"Liberation Sans","labelFontWeight":"bold","labelFontSize":9.5,"labelColor":"#000","labelOffset":4,"rowPadding":5,"padding":0}}}},
{"data":{"name":"bF"},"mark":{"type":"tick","orient":"horizontal","color":"#000","size":14.5,"thickness":1.5},"encoding":{"x":{"field":"g","type":"nominal","scale":{"type":"band","domain":["HCs","RC"],"range":[793.5,842.5],"paddingInner":0.332,"paddingOuter":0.295,"align":0.4375,"round":false},"axis":null},"y":{"field":"md","type":"quantitative","scale":{"domain":[0.15,0.35],"range":[408.8,336.5],"nice":false,"zero":false},"axis":null}}},

{"data":{"name":"bG"},"mark":{"type":"rule","color":"#000","strokeWidth":1},"encoding":{"x":{"field":"g","type":"nominal","scale":{"type":"band","domain":["HCs","RC"],"range":[1024.8,1072.5],"paddingInner":0.357,"paddingOuter":0.331,"align":0.562,"round":false},"axis":null},"y":{"field":"mn","type":"quantitative","scale":{"domain":[0.12,0.22],"range":[405.8,331.8],"nice":false,"zero":false},"axis":null},"y2":{"field":"mx"}}},
{"data":{"name":"bG"},"transform":[{"fold":["mn","mx"]}],"mark":{"type":"tick","orient":"horizontal","color":"#000","size":7,"thickness":1},"encoding":{"x":{"field":"g","type":"nominal","scale":{"type":"band","domain":["HCs","RC"],"range":[1024.8,1072.5],"paddingInner":0.357,"paddingOuter":0.331,"align":0.562,"round":false},"axis":null},"y":{"field":"value","type":"quantitative","scale":{"domain":[0.12,0.22],"range":[405.8,331.8],"nice":false,"zero":false},"axis":null}}},
{"data":{"name":"bG"},"mark":{"type":"bar","stroke":"#000","strokeWidth":1},"encoding":{"x":{"field":"g","type":"nominal","scale":{"type":"band","domain":["HCs","RC"],"range":[1024.8,1072.5],"paddingInner":0.357,"paddingOuter":0.331,"align":0.562,"round":false},"axis":{"orient":"bottom","offset":-265.7,"labels":false,"ticks":false,"domainWidth":1,"domainColor":"#333","title":"AUC(Eglo(G))","titleFontSize":8,"titleX":1050.2,"titleY":9.4,"titleAlign":"center","titleBaseline":"middle","titleAngle":0}},"y":{"field":"q1","type":"quantitative","scale":{"domain":[0.12,0.22],"range":[405.8,331.8],"nice":false,"zero":false},"axis":{"orient":"left","offset":-1024.8,"values":[0.12,0.14,0.16,0.18,0.2,0.22],"format":".2f","tickSize":2.5,"tickWidth":1,"domainWidth":1,"domainColor":"#333","labelFontSize":7.5,"labelPadding":1,"title":null}},"y2":{"field":"q3"},"color":{"field":"g","type":"nominal","scale":{"domain":["HCs","RC"],"range":["#c8c836","#178a3e"]},"legend":{"title":null,"orient":"none","legendX":1033.5,"legendY":94,"symbolType":"square","symbolSize":49,"symbolStrokeColor":"#000","symbolStrokeWidth":1,"labelFont":"Liberation Sans","labelFontWeight":"bold","labelFontSize":9.5,"labelColor":"#000","labelOffset":4,"rowPadding":5,"padding":0}}}},
{"data":{"name":"bG"},"mark":{"type":"tick","orient":"horizontal","color":"#000","size":13.3,"thickness":1.5},"encoding":{"x":{"field":"g","type":"nominal","scale":{"type":"band","domain":["HCs","RC"],"range":[1024.8,1072.5],"paddingInner":0.357,"paddingOuter":0.331,"align":0.562,"round":false},"axis":null},"y":{"field":"md","type":"quantitative","scale":{"domain":[0.12,0.22],"range":[405.8,331.8],"nice":false,"zero":false},"axis":null}}},

{"data":{"name":"A"},"transform":[{"fold":["HCs","RC"]}],"mark":{"type":"line","color":"#000","strokeWidth":1},"encoding":{"x":{"field":"s","type":"quantitative","scale":{"domain":[0,0.6],"range":[244.5,429.5],"nice":false,"zero":false},"axis":{"orient":"bottom","offset":-448.5,"values":[0,0.02,0.04,0.06,0.08,0.1,0.12,0.14,0.16,0.18,0.2,0.22,0.24,0.26,0.28,0.3,0.32,0.34,0.36,0.38,0.4,0.42,0.44,0.46,0.48,0.5,0.52,0.54,0.56,0.58,0.6],"labels":false,"domain":false,"tickSize":3,"tickWidth":1,"title":null}},"y":{"field":"value","type":"quantitative","scale":{"domain":[0,5],"range":[223,99],"nice":false,"zero":false},"axis":{"orient":"left","offset":-244.5,"labels":false,"ticks":false,"domain":false,"title":"A","titleAngle":0,"titleX":-22.7,"titleY":77.5,"titleAlign":"center","titleBaseline":"middle","titleFontSize":17}},"detail":{"field":"key"}}},
{"data":{"name":"A"},"transform":[{"fold":["HCs","RC"]}],"mark":{"type":"point","filled":true,"size":26,"opacity":1,"strokeWidth":0},"encoding":{"x":{"field":"s","type":"quantitative","scale":{"domain":[0,0.6],"range":[244.5,429.5],"nice":false,"zero":false},"axis":{"orient":"bottom","offset":-448.5,"values":[0,0.2,0.4,0.6],"format":".1f","tickSize":5,"tickWidth":1.5,"domainWidth":2,"labelFontSize":15,"labelPadding":2,"title":"Sparsity","titleFontSize":15,"titleY":36,"titleBaseline":"middle"}},"y":{"field":"value","type":"quantitative","scale":{"domain":[0,5],"range":[223,99],"nice":false,"zero":false},"axis":{"orient":"left","offset":-244.5,"values":[0,1,2,3,4,5],"format":"d","tickSize":5,"tickWidth":1.5,"domainWidth":2,"labelFontSize":15,"labelPadding":3,"title":"γ","titleAngle":0,"titleX":-21,"titleY":162.5,"titleAlign":"center","titleBaseline":"middle","titleFontSize":16}},"fill":{"field":"key","type":"nominal","scale":{"domain":["HCs","RC"],"range":["#c8c836","#178a3e"]},"legend":null,"condition":{"test":"datum.r == 1","value":"#ec2127"}},"order":{"field":"key","sort":"descending"}}},

{"data":{"name":"B"},"transform":[{"fold":["HCs","RC"]}],"mark":{"type":"line","color":"#000","strokeWidth":1},"encoding":{"x":{"field":"s","type":"quantitative","scale":{"domain":[0,0.6],"range":[545.5,729.5],"nice":false,"zero":false},"axis":{"orient":"bottom","offset":-448.5,"values":[0,0.02,0.04,0.06,0.08,0.1,0.12,0.14,0.16,0.18,0.2,0.22,0.24,0.26,0.28,0.3,0.32,0.34,0.36,0.38,0.4,0.42,0.44,0.46,0.48,0.5,0.52,0.54,0.56,0.58,0.6],"labels":false,"domain":false,"tickSize":3,"tickWidth":1,"title":null}},"y":{"field":"value","type":"quantitative","scale":{"domain":[1,1.8],"range":[223,99],"nice":false,"zero":false},"axis":{"orient":"left","offset":-545.5,"labels":false,"ticks":false,"domain":false,"title":"B","titleAngle":0,"titleX":-34.7,"titleY":76.5,"titleAlign":"center","titleBaseline":"middle","titleFontSize":17}},"detail":{"field":"key"}}},
{"data":{"name":"B"},"transform":[{"fold":["HCs","RC"]}],"mark":{"type":"point","filled":true,"size":36,"opacity":1,"strokeWidth":0},"encoding":{"x":{"field":"s","type":"quantitative","scale":{"domain":[0,0.6],"range":[545.5,729.5],"nice":false,"zero":false},"axis":{"orient":"bottom","offset":-448.5,"values":[0,0.2,0.4,0.6],"format":".1f","tickSize":5,"tickWidth":1.5,"domainWidth":2,"labelFontSize":15,"labelPadding":2,"title":"Sparsity","titleFontSize":15,"titleY":36,"titleBaseline":"middle"}},"y":{"field":"value","type":"quantitative","scale":{"domain":[1,1.8],"range":[223,99],"nice":false,"zero":false},"axis":{"orient":"left","offset":-545.5,"values":[1,1.2,1.4,1.6,1.8],"format":".1f","tickSize":5,"tickWidth":1.5,"domainWidth":2,"labelFontSize":15,"labelPadding":3,"title":"λ","titleAngle":0,"titleX":-34,"titleY":160.8,"titleAlign":"center","titleBaseline":"middle","titleFontSize":16}},"fill":{"field":"key","type":"nominal","scale":{"domain":["HCs","RC"],"range":["#c8c836","#178a3e"]},"legend":null,"condition":{"test":"datum.r == 1","value":"#ec2127"}},"order":{"field":"key","sort":"descending"}}},

{"data":{"name":"C"},"transform":[{"fold":["HCs","RC"]}],"mark":{"type":"line","color":"#000","strokeWidth":1},"encoding":{"x":{"field":"s","type":"quantitative","scale":{"domain":[0,0.6],"range":[832.5,1016.5],"nice":false,"zero":false},"axis":{"orient":"bottom","offset":-448.5,"values":[0,0.02,0.04,0.06,0.08,0.1,0.12,0.14,0.16,0.18,0.2,0.22,0.24,0.26,0.28,0.3,0.32,0.34,0.36,0.38,0.4,0.42,0.44,0.46,0.48,0.5,0.52,0.54,0.56,0.58,0.6],"labels":false,"domain":false,"tickSize":3,"tickWidth":1,"title":null}},"y":{"field":"value","type":"quantitative","scale":{"domain":[0,4],"range":[223,99],"nice":false,"zero":false},"axis":{"orient":"left","offset":-832.5,"labels":false,"ticks":false,"domain":false,"title":"C","titleAngle":0,"titleX":-22.7,"titleY":76.5,"titleAlign":"center","titleBaseline":"middle","titleFontSize":17}},"detail":{"field":"key"}}},
{"data":{"name":"C"},"transform":[{"fold":["HCs","RC"]}],"mark":{"type":"point","filled":true,"size":32,"opacity":1,"strokeWidth":0},"encoding":{"x":{"field":"s","type":"quantitative","scale":{"domain":[0,0.6],"range":[832.5,1016.5],"nice":false,"zero":false},"axis":{"orient":"bottom","offset":-448.5,"values":[0,0.2,0.4,0.6],"format":".1f","tickSize":5,"tickWidth":1.5,"domainWidth":2,"labelFontSize":15,"labelPadding":2,"title":"Sparsity","titleFontSize":15,"titleY":36,"titleBaseline":"middle"}},"y":{"field":"value","type":"quantitative","scale":{"domain":[0,4],"range":[223,99],"nice":false,"zero":false},"axis":{"orient":"left","offset":-832.5,"values":[0,1,2,3,4],"format":"d","tickSize":5,"tickWidth":1.5,"domainWidth":2,"labelFontSize":15,"labelPadding":3,"title":"σ","titleAngle":0,"titleX":-25,"titleY":159.2,"titleAlign":"center","titleBaseline":"middle","titleFontSize":16}},"fill":{"field":"key","type":"nominal","scale":{"domain":["HCs","RC"],"range":["#c8c836","#178a3e"]},"legend":null,"condition":{"test":"datum.r == 1","value":"#ec2127"}},"order":{"field":"key","sort":"descending"}}},

{"data":{"name":"D"},"transform":[{"fold":["HCs","RC"]}],"mark":{"type":"line","color":"#000","strokeWidth":1},"encoding":{"x":{"field":"s","type":"quantitative","scale":{"domain":[0,0.6],"range":[237.5,394.5],"nice":false,"zero":false},"axis":{"orient":"bottom","offset":-224,"values":[0,0.02,0.04,0.06,0.08,0.1,0.12,0.14,0.16,0.18,0.2,0.22,0.24,0.26,0.28,0.3,0.32,0.34,0.36,0.38,0.4,0.42,0.44,0.46,0.48,0.5,0.52,0.54,0.56,0.58,0.6],"labels":false,"domain":false,"tickSize":3,"tickWidth":1,"title":null}},"y":{"field":"value","type":"quantitative","scale":{"domain":[0.2,0.25],"range":[447.5,340.5],"nice":false,"zero":false},"axis":{"orient":"left","offset":-237.5,"labels":false,"ticks":false,"domain":false,"title":"D","titleAngle":0,"titleX":-32.3,"titleY":310.8,"titleAlign":"center","titleBaseline":"middle","titleFontSize":17}},"detail":{"field":"key"}}},
{"data":{"name":"D"},"transform":[{"fold":["HCs","RC"]}],"mark":{"type":"point","filled":true,"shape":"square","size":18,"opacity":1,"strokeWidth":0},"encoding":{"x":{"field":"s","type":"quantitative","scale":{"domain":[0,0.6],"range":[237.5,394.5],"nice":false,"zero":false},"axis":{"orient":"bottom","offset":-224,"values":[0,0.2,0.4,0.6],"format":".1f","tickSize":4,"tickWidth":1.5,"domainWidth":2,"labelFontSize":13,"labelPadding":3,"title":"Sparsity","titleFontSize":13,"titleY":32,"titleBaseline":"middle"}},"y":{"field":"value","type":"quantitative","scale":{"domain":[0.2,0.25],"range":[447.5,340.5],"nice":false,"zero":false},"axis":{"orient":"left","offset":-237.5,"values":[0.2,0.21,0.22,0.23,0.24,0.25],"format":".2f","tickSize":4,"tickWidth":1.5,"domainWidth":2,"labelFontSize":13,"labelPadding":3,"title":"Cₚ","titleAngle":0,"titleX":-29,"titleY":393,"titleAlign":"center","titleBaseline":"middle","titleFontSize":12.5}},"fill":{"field":"key","type":"nominal","scale":{"domain":["HCs","RC"],"range":["#c8c836","#178a3e"]},"legend":null,"condition":{"test":"datum.r == 1","value":"#ec2127"}},"order":{"field":"key","sort":"descending"}}},

{"data":{"name":"E"},"transform":[{"fold":["HCs","RC"]}],"mark":{"type":"line","color":"#000","strokeWidth":1},"encoding":{"x":{"field":"s","type":"quantitative","scale":{"domain":[0,0.6],"range":[456.5,627.5],"nice":false,"zero":false},"axis":{"orient":"bottom","offset":-224,"values":[0,0.02,0.04,0.06,0.08,0.1,0.12,0.14,0.16,0.18,0.2,0.22,0.24,0.26,0.28,0.3,0.32,0.34,0.36,0.38,0.4,0.42,0.44,0.46,0.48,0.5,0.52,0.54,0.56,0.58,0.6],"labels":false,"domain":false,"tickSize":3,"tickWidth":1,"title":null}},"y":{"field":"value","type":"quantitative","scale":{"domain":[0,6],"range":[447.5,332.5],"nice":false,"zero":false},"axis":{"orient":"left","offset":-456.5,"labels":false,"ticks":false,"domain":false,"title":"E","titleAngle":0,"titleX":-19,"titleY":312.5,"titleAlign":"center","titleBaseline":"middle","titleFontSize":17}},"detail":{"field":"key"}}},
{"data":{"name":"E"},"transform":[{"fold":["HCs","RC"]}],"mark":{"type":"point","filled":true,"size":28,"opacity":1,"strokeWidth":0},"encoding":{"x":{"field":"s","type":"quantitative","scale":{"domain":[0,0.6],"range":[456.5,627.5],"nice":false,"zero":false},"axis":{"orient":"bottom","offset":-224,"values":[0,0.2,0.4,0.6],"format":".1f","tickSize":4,"tickWidth":1.5,"domainWidth":2,"labelFontSize":13,"labelPadding":3,"title":"Sparsity","titleFontSize":13,"titleY":33,"titleBaseline":"middle"}},"y":{"field":"value","type":"quantitative","scale":{"domain":[0,6],"range":[447.5,332.5],"nice":false,"zero":false},"axis":{"orient":"left","offset":-456.5,"values":[0,2,4,6],"format":"d","tickSize":4,"tickWidth":1.5,"domainWidth":2,"labelFontSize":13,"labelPadding":3,"title":"Lₚ","titleAngle":0,"titleX":-27,"titleY":385.5,"titleAlign":"center","titleBaseline":"middle","titleFontSize":15}},"fill":{"field":"key","type":"nominal","scale":{"domain":["HCs","RC"],"range":["#c8c836","#178a3e"]},"legend":null,"condition":{"test":"datum.r == 1","value":"#ec2127"}},"order":{"field":"key","sort":"descending"}}},

{"data":{"name":"F"},"transform":[{"fold":["HCs","RC"]}],"mark":{"type":"line","color":"#000","strokeWidth":1},"encoding":{"x":{"field":"s","type":"quantitative","scale":{"domain":[0,0.6],"range":[700.5,856.5],"nice":false,"zero":false},"axis":{"orient":"bottom","offset":-224,"values":[0,0.02,0.04,0.06,0.08,0.1,0.12,0.14,0.16,0.18,0.2,0.22,0.24,0.26,0.28,0.3,0.32,0.34,0.36,0.38,0.4,0.42,0.44,0.46,0.48,0.5,0.52,0.54,0.56,0.58,0.6],"labels":false,"domain":false,"tickSize":3,"tickWidth":1,"title":"loc(G)","titleAngle":270,"titleFontSize":10,"titleX":658,"titleY":-28,"titleAlign":"left","titleBaseline":"middle"}},"y":{"field":"value","type":"quantitative","scale":{"domain":[0.4,0.6],"range":[447.5,341.5],"nice":false,"zero":false},"axis":{"orient":"left","offset":-700.5,"labels":false,"ticks":false,"domain":false,"title":"F","titleAngle":0,"titleX":-33.7,"titleY":312.5,"titleAlign":"center","titleBaseline":"middle","titleFontSize":17}},"detail":{"field":"key"}}},
{"data":{"name":"F"},"transform":[{"fold":["HCs","RC"]}],"mark":{"type":"point","filled":true,"size":16,"opacity":1,"strokeWidth":0},"encoding":{"x":{"field":"s","type":"quantitative","scale":{"domain":[0,0.6],"range":[700.5,856.5],"nice":false,"zero":false},"axis":{"orient":"bottom","offset":-224,"values":[0,0.2,0.4,0.6],"format":".1f","tickSize":4,"tickWidth":1.5,"domainWidth":2,"labelFontSize":13,"labelPadding":3,"title":"Sparsity","titleFontSize":13,"titleY":31,"titleBaseline":"middle"}},"y":{"field":"value","type":"quantitative","scale":{"domain":[0.4,0.6],"range":[447.5,341.5],"nice":false,"zero":false},"axis":{"orient":"left","offset":-700.5,"values":[0.4,0.45,0.5,0.55,0.6],"format":".2f","tickSize":4,"tickWidth":1.5,"domainWidth":2,"labelFontSize":13,"labelPadding":3,"title":"E","titleAngle":270,"titleX":-44,"titleY":423.8,"titleAlign":"center","titleBaseline":"middle","titleFontSize":13}},"fill":{"field":"key","type":"nominal","scale":{"domain":["HCs","RC"],"range":["#c8c836","#178a3e"]},"legend":null,"condition":{"test":"datum.r == 1","value":"#ec2127"}},"order":{"field":"key","sort":"descending"}}},

{"data":{"name":"G"},"transform":[{"fold":["HCs","RC"]}],"mark":{"type":"line","color":"#000","strokeWidth":1},"encoding":{"x":{"field":"s","type":"quantitative","scale":{"domain":[0,0.6],"range":[924.5,1085.5],"nice":false,"zero":false},"axis":{"orient":"bottom","offset":-224,"values":[0,0.02,0.04,0.06,0.08,0.1,0.12,0.14,0.16,0.18,0.2,0.22,0.24,0.26,0.28,0.3,0.32,0.34,0.36,0.38,0.4,0.42,0.44,0.46,0.48,0.5,0.52,0.54,0.56,0.58,0.6],"labels":false,"domain":false,"tickSize":3,"tickWidth":1,"title":"glo(G)","titleAngle":270,"titleFontSize":10,"titleX":890.5,"titleY":-48.3,"titleAlign":"left","titleBaseline":"middle"}},"y":{"field":"value","type":"quantitative","scale":{"domain":[0,0.5],"range":[447.5,339.5],"nice":false,"zero":false},"axis":{"orient":"left","offset":-924.5,"labels":false,"ticks":false,"domain":false,"title":"G","titleAngle":0,"titleX":-30.6,"titleY":312.5,"titleAlign":"center","titleBaseline":"middle","titleFontSize":17}},"detail":{"field":"key"}}},
{"data":{"name":"G"},"transform":[{"fold":["HCs","RC"]}],"mark":{"type":"point","filled":true,"size":24,"opacity":1,"strokeWidth":0},"encoding":{"x":{"field":"s","type":"quantitative","scale":{"domain":[0,0.6],"range":[924.5,1085.5],"nice":false,"zero":false},"axis":{"orient":"bottom","offset":-224,"values":[0,0.2,0.4,0.6],"format":".1f","tickSize":4,"tickWidth":1.5,"domainWidth":2,"labelFontSize":13,"labelPadding":3,"title":"Sparsity","titleFontSize":13,"titleY":32,"titleBaseline":"middle"}},"y":{"field":"value","type":"quantitative","scale":{"domain":[0,0.5],"range":[447.5,339.5],"nice":false,"zero":false},"axis":{"orient":"left","offset":-924.5,"values":[0,0.1,0.2,0.3,0.4,0.5],"format":".1f","tickSize":4,"tickWidth":1.5,"domainWidth":2,"labelFontSize":13,"labelPadding":3,"title":"E","titleAngle":270,"titleX":-36.3,"titleY":404.2,"titleAlign":"center","titleBaseline":"middle","titleFontSize":13}},"fill":{"field":"key","type":"nominal","scale":{"domain":["HCs","RC"],"range":["#c8c836","#178a3e"]},"legend":null,"condition":{"test":"datum.r == 1","value":"#ec2127"}},"order":{"field":"key","sort":"descending"}}}
]
}
